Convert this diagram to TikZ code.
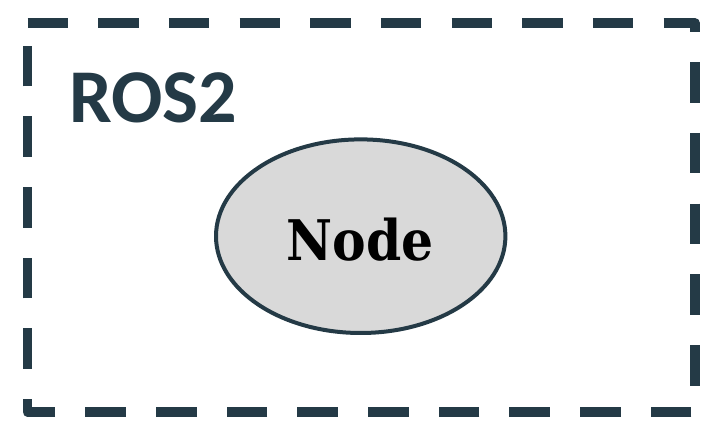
\documentclass[tikz,border=0pt]{standalone}
\usepackage{fontspec}
\usetikzlibrary{shapes.geometric}
\newfontfamily\rosfont{Carlito}
\newfontfamily\nodefont{DejaVu Serif Condensed}
\definecolor{slate}{HTML}{243A46}
\definecolor{nodegray}{HTML}{D9D9D9}
\tikzset{
  frame/.style={draw=slate, line width=9.6pt, line join=round, dash pattern=on 40.5pt off 30.18pt},
  rosnode/.style={ellipse, draw=slate, fill=nodegray, line width=4pt, minimum width=289.4pt, minimum height=193.6pt, inner sep=0pt},
}
\begin{document}
\begin{tikzpicture}[x=1pt,y=-1pt]
\useasboundingbox (0,0) rectangle (723,443);
\coordinate (tl) at (27.5,23);
\coordinate (tr) at (695,23);
\coordinate (br) at (695,412);
\coordinate (bl) at (27.5,412);
\draw[frame] (tl) -- (tr) -- (br) -- (bl) -- cycle;
\node[anchor=base west, inner sep=0pt, text=slate, font=\rosfont\bfseries\fontsize{76}{76}\selectfont] (ros) at (69,123) {ROS2};
\node[rosnode] (node) at (360.7,236.2) {};
\node[anchor=base, inner sep=0pt, text=black, font=\nodefont\bfseries\fontsize{56}{56}\selectfont] (nodelabel) at (360,261) {Node};
\end{tikzpicture}
\end{document}
